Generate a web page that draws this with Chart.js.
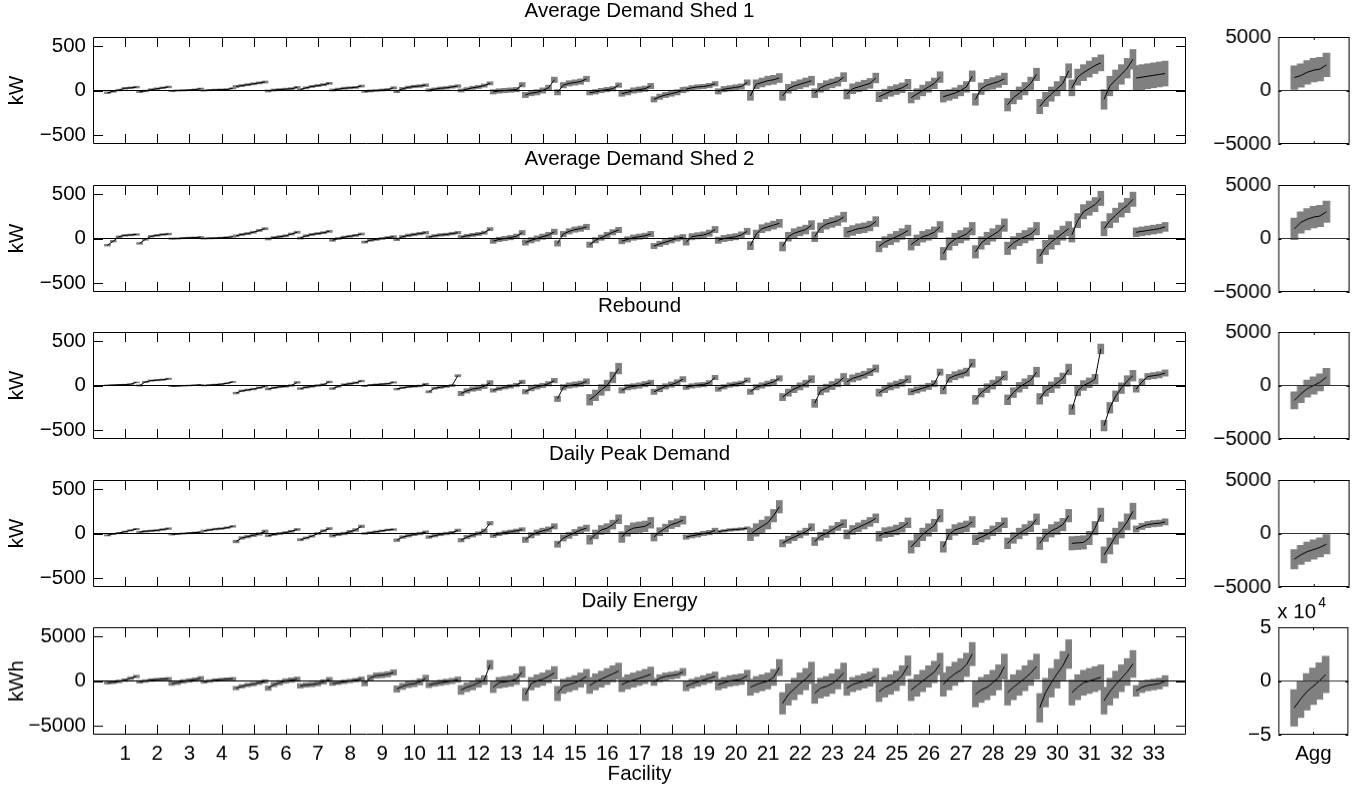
<!DOCTYPE html>
<html>
<head>
<meta charset="utf-8">
<script src="https://cdn.jsdelivr.net/npm/chart.js@4.4.1/dist/chart.umd.min.js"></script>
<style>
  html, body { margin: 0; padding: 0; background: #fff; width: 1358px; height: 793px; overflow: hidden; position: relative; }
  canvas { position: absolute; }
</style>
</head>
<body>
<script>
// 시설 번호와 각 행 제목
const facilities = Array.from({ length: 33 }, (_, i) => i + 1)
const rowTitles = ['Average Demand Shed 1', 'Average Demand Shed 2', 'Rebound', 'Daily Peak Demand', 'Daily Energy']
const rowUnits = ['kW', 'kW', 'kW', 'kW', 'kWh']
const mainTicks = [[-500, 0, 500], [-500, 0, 500], [-500, 0, 500], [-500, 0, 500], [-5000, 0, 5000]]
const aggTicks = [[-5000, 0, 5000], [-5000, 0, 5000], [-5000, 0, 5000], [-5000, 0, 5000], [-50000, 0, 50000]]

// 시설별 정렬된 추정값 (행마다 33개 그룹)
const shed1 = [
  [-25,-10,5,25,30,38], [-15,-5,10,20,30,40], [-5,0,2,5,10,20], [0,5,8,10,12,25],
  [45,55,65,75,85,95], [-5,5,10,15,20,35], [10,30,45,55,65,80], [5,15,25,30,35,50],
  [-10,-5,0,5,10,30], [-10,20,35,45,50,60], [5,15,25,30,40,50], [0,15,30,40,55,80],
  [-15,-5,0,5,10,65], [-50,-30,-20,0,30,120], [-20,60,80,90,100,130], [-25,-15,0,10,20,60],
  [-35,-20,0,10,20,50], [-100,-70,-50,-35,-20,5], [15,30,40,45,55,75], [-10,15,25,35,45,90],
  [-60,70,90,110,120,140], [-60,20,50,70,90,110], [-30,30,60,80,100,150], [-40,20,40,60,80,140],
  [-70,-40,-10,10,30,70], [-80,-40,0,40,80,150], [-70,-50,-30,0,40,160], [-100,20,60,80,100,130],
  [-160,-80,-30,20,80,180], [-180,-100,-40,20,80,220], [30,150,200,240,280,310], [-100,50,120,180,250,350],
  [140,150,160,170,180,190]
]
const shed1Err = [10,10,8,8,12,12,12,12,12,15,15,18,25,30,30,25,30,30,25,30,50,50,50,55,55,60,60,65,70,80,90,110,140]

const shed2 = [
  [-75,-30,20,35,40,45], [-55,-10,25,35,45,50], [-2,0,5,8,10,15], [0,3,5,8,12,20],
  [30,45,55,70,90,110], [-5,10,20,30,50,70], [5,30,45,55,65,80], [-20,0,15,25,35,50],
  [-40,-20,-10,0,10,20], [-10,20,35,45,55,65], [15,30,40,45,55,65], [15,30,40,50,65,105],
  [-30,-10,0,10,25,65], [-45,-20,0,20,40,75], [-55,50,80,100,110,130], [-70,-20,10,40,70,95],
  [-30,-10,10,20,30,50], [-85,-60,-40,-20,0,15], [-40,20,30,40,60,100], [-20,0,10,20,40,80],
  [-80,50,110,130,150,170], [-90,20,60,80,100,150], [20,120,160,180,200,240], [70,90,110,120,140,190],
  [-90,-40,-10,20,50,90], [-70,-20,20,40,70,130], [-170,-60,-10,20,50,110], [-150,-50,0,40,80,150],
  [-110,-50,-10,20,50,110], [-200,-100,-40,10,60,110], [40,200,300,340,380,450], [110,200,260,320,370,440],
  [70,80,90,100,110,130]
]
const shed2Err = [10,10,8,8,12,12,12,12,12,15,15,18,25,30,30,30,30,30,35,35,45,50,55,55,60,60,70,70,70,80,80,80,50]

const rebound = [
  [2,5,8,10,15,35], [0,40,55,60,65,75], [-8,-5,-2,0,3,8], [0,5,10,15,25,40],
  [-85,-60,-50,-40,-25,-10], [-40,-25,-15,-10,0,35], [-35,-20,-10,0,10,40], [-35,-10,10,20,30,50],
  [-5,5,10,15,20,35], [-40,-25,-15,-10,-5,15], [-70,-30,-20,-10,0,110], [-90,-60,-40,-30,-10,30],
  [-55,-35,-20,-10,5,40], [-70,-35,-15,0,20,55], [-150,-20,0,10,20,45], [-160,-110,-50,0,90,190],
  [-55,-20,-10,0,15,30], [-70,-40,-10,10,35,70], [-20,-5,5,10,30,90], [-40,-15,5,15,25,60],
  [-70,-20,0,20,40,80], [-130,-80,-40,-10,20,70], [-200,-60,-30,0,30,90], [40,80,100,120,150,190],
  [-80,-40,-10,10,30,70], [-70,-50,-30,-10,20,150], [-50,80,110,130,150,250], [-160,-80,-30,10,50,110],
  [-160,-80,-20,20,60,150], [-150,-60,-20,30,80,180], [-270,-60,0,30,70,410], [-450,-250,-120,-30,50,110],
  [-40,40,100,110,120,140]
]
const reboundErr = [5,8,5,6,10,10,10,10,8,10,12,25,20,25,30,60,30,30,25,25,30,40,45,40,40,35,45,50,55,60,55,60,35]

const peak = [
  [-20,-5,5,20,35,50], [15,25,30,35,45,55], [-10,-5,0,5,10,15], [30,40,50,55,65,80],
  [-90,-50,-35,-20,-5,25], [-25,-10,0,10,25,45], [-70,-50,-30,0,30,55], [-25,-10,0,20,40,80],
  [0,10,20,30,40,45], [-75,-40,-25,-10,0,15], [-40,-25,-10,0,10,35], [-75,-40,-20,0,30,115],
  [-25,-5,10,20,30,45], [-70,-20,10,30,45,80], [-120,-50,-20,10,40,60], [-70,-10,40,60,100,160],
  [-40,30,60,70,80,120], [-40,20,60,100,120,150], [-40,-25,-15,0,10,35], [20,30,40,45,50,60],
  [-10,40,80,120,200,300], [-110,-70,-40,-10,20,70], [-90,-30,0,40,80,110], [-10,40,70,100,130,170],
  [-30,10,20,40,70,120], [-150,-80,-10,40,90,200], [-150,-10,40,60,80,130], [-70,-40,-10,30,70,120],
  [-110,-50,0,40,80,160], [-110,-20,30,60,100,200], [-110,-105,-100,-50,60,210], [-240,-140,-30,40,130,250],
  [50,80,100,110,115,130]
]
const peakErr = [8,10,8,10,15,12,12,15,10,15,15,20,20,30,35,50,60,45,25,15,70,40,45,50,55,70,60,55,60,70,75,90,35]

const energy = [
  [-200,-150,-50,100,300,500], [-100,0,100,150,200,250], [-300,-200,-50,50,150,300], [-100,0,100,150,200,250],
  [-800,-600,-450,-350,-200,-50], [-800,-400,-200,0,100,200], [-550,-450,-400,-300,-100,150], [-300,-200,-100,0,100,250],
  [-250,350,600,650,750,950], [-900,-600,-400,-300,-100,300], [-450,-300,-200,-100,0,150], [-1000,-700,-500,-200,100,1800],
  [-700,-200,-100,0,200,1000], [-1500,-300,0,200,500,900], [-1400,-600,-400,-200,100,500], [-500,-100,200,500,800,1100],
  [-400,-100,100,300,500,750], [-100,300,500,600,700,1000], [-600,-300,-100,100,300,500], [-400,-200,0,100,200,600],
  [-700,-400,-200,0,400,1500], [-2500,-1500,-900,-300,200,900], [-1400,-800,-600,-300,200,900], [-800,-400,-200,0,200,600],
  [-1200,-700,-400,0,600,1700], [-1000,-500,0,500,1000,1900], [-400,300,800,1200,1800,3000], [-1500,-1000,-700,-200,400,1600],
  [-1300,-700,-200,300,900,1600], [-3000,-1300,-200,800,1700,3000], [-1300,-700,-200,0,200,400], [-2200,-1200,-400,300,1000,1900],
  [-1100,-700,-500,-400,-300,0]
]
const energyErr = [150,150,200,150,200,250,250,200,300,350,300,500,600,700,800,900,800,400,500,600,900,1200,1100,800,1100,1200,1300,1400,1400,1600,1400,1500,600]

// 전체 합계 (Agg)
const aggShed1 = [1200, 1400, 1700, 1900, 2000, 2400]
const aggShed2 = [900, 1500, 1800, 2000, 2100, 2500]
const aggRebound = [-1400, -800, -300, 0, 300, 800]
const aggPeak = [-2400, -2000, -1700, -1500, -1300, -1000]
const aggEnergy = [-25000, -17000, -10000, -5000, 0, 6000]
const aggErr = [1100, 1000, 800, 900, 17000]

const rowVals = [shed1, shed2, rebound, peak, energy]
const rowErrs = [shed1Err, shed2Err, reboundErr, peakErr, energyErr]
const aggVals = [aggShed1, aggShed2, aggRebound, aggPeak, aggEnergy]

// 레이아웃
const PANEL_TOP = [37, 185, 332, 480, 627]
const PANEL_H = 107
const MAIN = { x: 93, w: 1093 }
const AGG = { x: 1278, w: 70 }
const FONT = '"Liberation Sans", Arial, Helvetica, sans-serif'
const FS = 20.5
const GRAY = '#808080'
const LO = -0.55, HI = 0.35

Chart.defaults.font.family = FONT
Chart.defaults.font.size = FS
Chart.defaults.color = '#000'

const minus = v => v < 0 ? '\u2212' + Math.abs(v) : String(v)

// 프레임 + 안쪽 눈금 + 제목
const framePlugin = {
  id: 'frame',
  afterDraw(chart, args, o) {
    const { ctx, chartArea: a, scales: { x, y } } = chart
    ctx.save()
    ctx.strokeStyle = '#000'
    ctx.lineWidth = 1
    ctx.beginPath()
    ctx.rect(a.left + 0.5, a.top + 0.5, a.width - 1, a.height - 1)
    o.xt.forEach(v => {
      const px = Math.round(x.getPixelForValue(v)) + 0.5
      ctx.moveTo(px, a.top); ctx.lineTo(px, a.top + o.len)
      ctx.moveTo(px, a.bottom); ctx.lineTo(px, a.bottom - o.len)
    })
    o.yt.forEach(v => {
      const py = Math.round(y.getPixelForValue(v)) + 0.5
      ctx.moveTo(a.left, py); ctx.lineTo(a.left + o.len, py)
      ctx.moveTo(a.right, py); ctx.lineTo(a.right - o.len, py)
    })
    ctx.stroke()
    ctx.fillStyle = '#000'
    ctx.textBaseline = 'middle'
    ctx.font = FS + 'px ' + FONT
    ctx.textAlign = 'center'
    if (o.title) ctx.fillText(o.title, (a.left + a.right) / 2, a.top - 26)
    if (o.xTitle) ctx.fillText(o.xTitle, (a.left + a.right) / 2, a.bottom + 39)
    if (o.exp) {
      ctx.textAlign = 'left'
      ctx.fillText('x 10', a.left - 1, a.top - 15)
      ctx.font = '14px ' + FONT
      ctx.fillText(o.exp, a.left + 40, a.top - 24)
    }
    ctx.restore()
  }
}

function buildSeries(groups, centers, errs) {
  const bars = []
  const line = []
  groups.forEach((g, k) => {
    const c = centers[k]
    g.forEach((v, i) => {
      const x = c + LO + i * (HI - LO) / (g.length - 1)
      bars.push({ x, y: [v - errs[k], v + errs[k]] })
      line.push({ x, y: v })
    })
    line.push({ x: c + 0.4, y: null })
  })
  return { bars, line }
}

function makePanel(box, cfg) {
  const el = document.createElement('canvas')
  el.width = cfg.cw
  el.height = cfg.ch
  document.body.appendChild(el)
  const { bars, line } = buildSeries(cfg.groups, cfg.centers, cfg.errs)
  const yDiv = cfg.yDiv || 1

  const chart = new Chart(el, {
    type: 'bar',
    data: {
      datasets: [
        { type: 'line', data: [{ x: 0, y: 0 }, { x: cfg.xMax, y: 0 }], borderColor: cfg.zeroColor, borderWidth: 1, pointRadius: 0, order: 1 },
        { type: 'line', data: line, borderColor: '#000', borderWidth: 1, pointRadius: 0, spanGaps: false, tension: 0, order: 2 },
        { type: 'bar', data: bars, backgroundColor: GRAY, borderWidth: 0, barThickness: cfg.barW, order: 3 }
      ]
    },
    options: {
      responsive: false,
      maintainAspectRatio: false,
      animation: false,
      events: [],
      layout: { padding: cfg.pad },
      plugins: {
        legend: { display: false },
        tooltip: { enabled: false },
        frame: { xt: cfg.centers, yt: cfg.yTicks, len: cfg.tickLen, title: cfg.title, exp: cfg.exp, xTitle: cfg.xTitle }
      },
      scales: {
        x: {
          type: 'linear',
          min: 0,
          max: cfg.xMax,
          offset: false,
          display: !!cfg.xLabel,
          grid: { display: false, drawTicks: false },
          border: { display: false },
          afterBuildTicks: s => { s.ticks = cfg.centers.map(v => ({ value: v })) },
          ticks: {
            autoSkip: false, maxRotation: 0, padding: 9,
            font: { size: FS, lineHeight: 1 },
            callback: v => cfg.xLabel === 'num' ? String(v) : cfg.xLabel
          }
        },
        y: {
          min: -cfg.yMax,
          max: cfg.yMax,
          grid: { display: false, drawTicks: false },
          border: { display: false },
          afterBuildTicks: s => { s.ticks = cfg.yTicks.map(v => ({ value: v })) },
          afterFit: s => { if (cfg.yWidth) s.width = cfg.yWidth },
          ticks: { autoSkip: false, padding: 7, font: { size: FS }, callback: v => minus(v / yDiv) },
          title: { display: !!cfg.yTitle, text: cfg.yTitle, padding: { top: 5, bottom: 4 }, font: { size: FS } }
        }
      }
    },
    plugins: [framePlugin]
  })

  // 차트 영역이 원하는 위치/크기가 되도록 캔버스를 맞춤
  let a = chart.chartArea
  const dw = box.w - (a.right - a.left)
  const dh = box.h - (a.bottom - a.top)
  if (dw || dh) chart.resize(chart.width + dw, chart.height + dh)
  a = chart.chartArea
  el.style.left = (box.x - a.left) + 'px'
  el.style.top = (box.y - a.top) + 'px'
  return chart
}

rowVals.forEach((vals, r) => {
  const last = r === 4
  makePanel({ x: MAIN.x, y: PANEL_TOP[r], w: MAIN.w, h: PANEL_H }, {
    cw: 1200, ch: last ? 204 : 164,
    pad: { top: 37, right: 14, bottom: last ? 26 : 20, left: 0 },
    groups: vals, centers: facilities, errs: rowErrs[r],
    xMax: 34, yMax: last ? 6000 : 600, yTicks: mainTicks[r],
    barW: 6, tickLen: 10, title: rowTitles[r], zeroColor: '#000',
    yTitle: rowUnits[r], yWidth: 93,
    xLabel: last ? 'num' : null, xTitle: last ? 'Facility' : null
  })
  makePanel({ x: AGG.x, y: PANEL_TOP[r], w: AGG.w, h: PANEL_H }, {
    cw: 160, ch: last ? 190 : 164,
    pad: { top: 37, right: 10, bottom: last ? 6 : 20, left: 0 },
    groups: [aggVals[r]], centers: [1], errs: [aggErr[r]],
    xMax: 2, yMax: last ? 50000 : 5000, yTicks: aggTicks[r], yDiv: last ? 10000 : 1,
    barW: 7, tickLen: 3, title: null, exp: last ? '4' : null, zeroColor: '#333',
    xLabel: last ? 'Agg' : null, xTitle: null
  })
})
</script>
</body>
</html>
